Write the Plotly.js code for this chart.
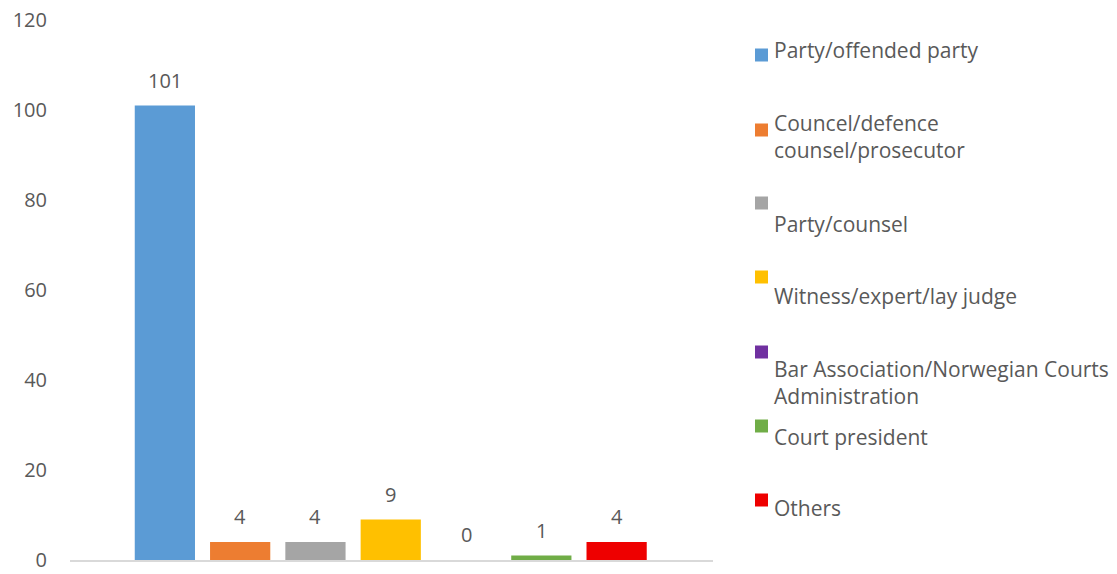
<!DOCTYPE html>
<html>
<head>
<meta charset="utf-8">
<script src="https://cdn.plot.ly/plotly-3.0.1.min.js"></script>
<style>
html,body{margin:0;padding:0;background:#fff;}
#chart{width:1117px;height:574px;}
</style>
</head>
<body>
<div id="chart"></div>
<script>
// ---- data ----
var categories = [
  "Party/offended party",
  "Councel/defence<br>counsel/prosecutor",
  "Party/counsel",
  "Witness/expert/lay judge",
  "Bar Association/Norwegian Courts<br>Administration",
  "Court president",
  "Others"
];
var values = [101, 4, 4, 9, 0, 1, 4];
var colors = ["#5B9BD5", "#ED7D31", "#A5A5A5", "#FFC000", "#7030A0", "#70AD47", "#EE0000"];
var yTicks = [0, 20, 40, 60, 80, 100, 120];

// ---- legend layout (pixel positions of the manual legend) ----
var legendMarkerY = [55, 130, 203, 277, 352, 426, 500];
var legendTextY = [50, 136.5, 224, 296, 382.5, 437, 508];

var W = 1117, H = 574;
var mL = 70, mR = 404, mT = 20, mB = 14;
var pw = W - mL - mR, ph = H - mT - mB;
function px2x(p){ return (p - mL) / pw; }
function px2y(p){ return (H - mB - p) / ph; }

var textColor = "#595959";
var fontFam = "Open Sans, sans-serif";

var traces = categories.map(function(c, i){
  return {
    type: "bar",
    x: [c],
    y: [values[i]],
    name: c,
    width: 0.8,
    marker: {color: colors[i]},
    hoverinfo: "skip",
    showlegend: false
  };
});

var annotations = [];
var shapes = [];
categories.forEach(function(c, i){
  annotations.push({
    x: c, y: values[i], xref: "x", yref: "y",
    text: String(values[i]),
    showarrow: false, yanchor: "bottom", yshift: 10,
    font: {family: fontFam, size: 20, color: textColor}
  });
  annotations.push({
    x: px2x(772.5), y: px2y(legendTextY[i]), xref: "paper", yref: "paper",
    text: c, showarrow: false, xanchor: "left", yanchor: "middle", align: "left",
    borderpad: 0,
    font: {family: fontFam, size: 21, color: textColor}
  });
  shapes.push({
    type: "rect", xref: "paper", yref: "paper",
    x0: px2x(755), x1: px2x(768),
    y0: px2y(legendMarkerY[i] + 6.5), y1: px2y(legendMarkerY[i] - 6.5),
    fillcolor: colors[i], line: {width: 0}
  });
});

var layout = {
  width: W, height: H,
  margin: {l: mL, r: mR, t: mT, b: mB, pad: 0},
  paper_bgcolor: "#ffffff",
  plot_bgcolor: "#ffffff",
  barmode: "overlay",
  showlegend: false,
  xaxis: {
    type: "category",
    categoryorder: "array",
    categoryarray: categories,
    range: [-1.26, 7.28],
    showticklabels: false,
    ticks: "",
    showgrid: false,
    zeroline: false,
    showline: true,
    linecolor: "#D9D9D9",
    linewidth: 1.5,
    fixedrange: true
  },
  yaxis: {
    range: [0, 120],
    tickvals: yTicks,
    ticktext: yTicks.map(String),
    showgrid: false,
    zeroline: false,
    showline: false,
    ticks: "",
    ticklabelstandoff: 22,
    tickfont: {family: fontFam, size: 20, color: textColor},
    fixedrange: true
  },
  annotations: annotations,
  shapes: shapes
};

Plotly.newPlot("chart", traces, layout, {displayModeBar: false, staticPlot: true});
</script>
</body>
</html>
